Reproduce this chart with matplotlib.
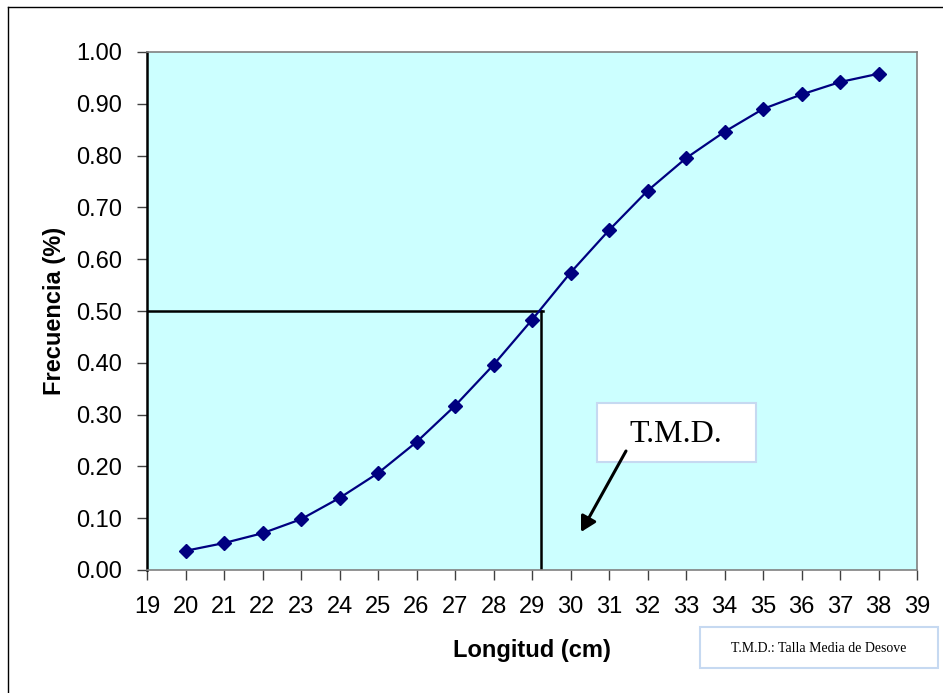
import matplotlib
matplotlib.use('Agg')
import matplotlib.pyplot as plt
from matplotlib.lines import Line2D
from matplotlib.patches import Rectangle, FancyArrowPatch
import numpy as np

# talla (cm) y frecuencia acumulada
longitud = [20, 21, 22, 23, 24, 25, 26, 27, 28, 29, 30, 31, 32, 33, 34, 35, 36, 37, 38]
frecuencia = [0.037, 0.052, 0.071, 0.098, 0.139, 0.187, 0.247, 0.317, 0.396, 0.483,
              0.574, 0.656, 0.732, 0.795, 0.846, 0.890, 0.918, 0.942, 0.958]
tmd = 29.23
x_ticks = list(range(19, 40))
y_ticks = [0.0, 0.1, 0.2, 0.3, 0.4, 0.5, 0.6, 0.7, 0.8, 0.9, 1.0]

plt.rcParams['font.family'] = ['Liberation Sans', 'DejaVu Sans']

fig = plt.figure(figsize=(9.43, 6.93), dpi=100)
ax = fig.add_axes([147/943, 1-570/693, (917-147)/943, (570-52)/693])
ax.set_facecolor('#CCFFFF')

ax.plot(longitud, frecuencia, color='#000080', linewidth=1.6, marker='D',
        markersize=7, markerfacecolor='#000080', markeredgecolor='#000080', zorder=3)

# lineas de referencia a 0.50
ax.plot([19, tmd + 0.05], [0.5, 0.5], color='black', linewidth=1.8, zorder=2)
ax.plot([tmd, tmd], [0.5, 0.0], color='black', linewidth=1.8, zorder=2)

ax.set_xlim(19, 39)
ax.set_ylim(0, 1)
ax.set_xticks(x_ticks)
ax.set_yticks(y_ticks)
ax.set_yticklabels(['%.2f' % v for v in y_ticks])
ax.tick_params(axis='both', direction='out', length=7, width=1, color='#404040',
               labelsize=17)
ax.tick_params(axis='y', pad=11)
ax.tick_params(axis='x', pad=12)

for s in ['top', 'right', 'bottom']:
    ax.spines[s].set_color('#808080')
    ax.spines[s].set_linewidth(1.2)
ax.spines['left'].set_color('black')
ax.spines['left'].set_linewidth(1.8)

ax.set_xlabel('Longitud (cm)', fontsize=17, fontweight='bold', labelpad=15)
ax.set_ylabel('Frecuencia (%)', fontsize=17, fontweight='bold', labelpad=7)

# cuadro T.M.D. con flecha
fig.add_artist(Rectangle((597/943, 1-462/693), 159/943, 59/693, transform=fig.transFigure,
                         facecolor='white', edgecolor='#C6D9F1', linewidth=1.5, zorder=4))
fig.text(676/943, 1-434/693, 'T.M.D.', fontsize=23, family='Liberation Serif',
         ha='center', va='center', zorder=5)
flecha = FancyArrowPatch((626/943, 1-451/693), (581/943, 1-532/693),
                         transform=fig.transFigure,
                         arrowstyle='-|>,head_length=9,head_width=5',
                         color='black', linewidth=2.2, shrinkA=0, shrinkB=0, zorder=6)
fig.add_artist(flecha)

# nota al pie
fig.add_artist(Rectangle((700/943, 1-668/693), 238/943, 41/693, transform=fig.transFigure,
                         facecolor='white', edgecolor='#C6D9F1', linewidth=1.5))
fig.text(819/943, 1-648/693, 'T.M.D.: Talla Media de Desove', fontsize=10,
         family='Liberation Serif', ha='center', va='center')

# borde del grafico
fig.add_artist(Line2D([8/943, 8/943], [0, 1-7/693], transform=fig.transFigure,
                      color='black', linewidth=1))
fig.add_artist(Line2D([8/943, 1], [1-7/693, 1-7/693], transform=fig.transFigure,
                      color='black', linewidth=1))

plt.savefig('out.png', dpi=100)
